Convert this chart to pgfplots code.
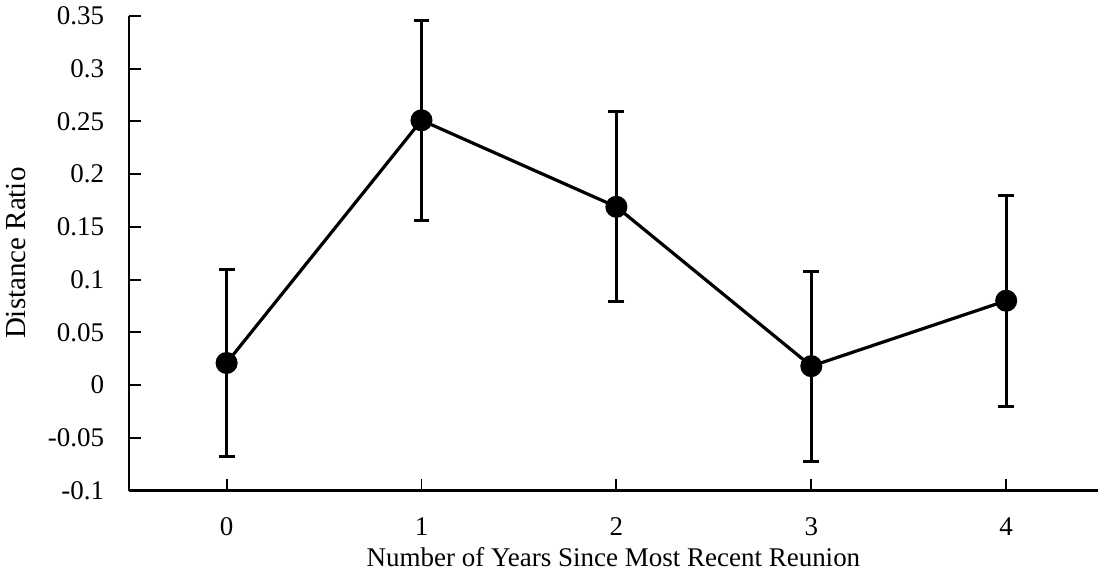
\documentclass[border=0pt]{standalone}
\usepackage{fontspec}
\setmainfont{Liberation Serif}
\usepackage{pgfplots}
\pgfplotsset{compat=1.18}
\begin{document}
\begin{tikzpicture}
\begin{axis}[
  scale only axis,
  width=484.5pt, height=237.5pt,
  xmin=-0.5, xmax=4.47,
  ymin=-0.1, ymax=0.35,
  axis lines=left,
  axis line style={line width=1.2pt, -},
  xtick={0,1,2,3,4},
  ytick={-0.1,-0.05,0,0.05,0.1,0.15,0.2,0.25,0.3,0.35},
  yticklabels={-0.1,-0.05,0,0.05,0.1,0.15,0.2,0.25,0.3,0.35},
  tick style={line width=1pt, black},
  major tick length=6pt,
  tick align=inside,
  tick label style={font=\fontsize{13.5}{15}\selectfont},
  yticklabel style={xshift=-9pt},
  xticklabel style={yshift=-10pt},
  xlabel={Number of Years Since Most Recent Reunion},
  ylabel={Distance Ratio},
  xlabel style={font=\fontsize{13.5}{15}\selectfont, yshift=1pt},
  ylabel style={font=\fontsize{14.5}{16}\selectfont, yshift=4pt},
  /pgf/number format/assume math mode=true,
  clip=false,
]
\addplot[black, line width=1.6pt, mark=*, mark size=4.7pt,
  error bars/.cd, y dir=both, y explicit,
  error bar style={line width=1.5pt},
  error mark options={rotate=90, mark size=4pt, line width=1.5pt}]
  coordinates {
  (0,0.021) +- (0,0.089)
  (1,0.251) +- (0,0.095)
  (2,0.169) +- (0,0.090)
  (3,0.018) +- (0,0.090)
  (4,0.080) +- (0,0.100)
  };
\end{axis}
\end{tikzpicture}
\end{document}
